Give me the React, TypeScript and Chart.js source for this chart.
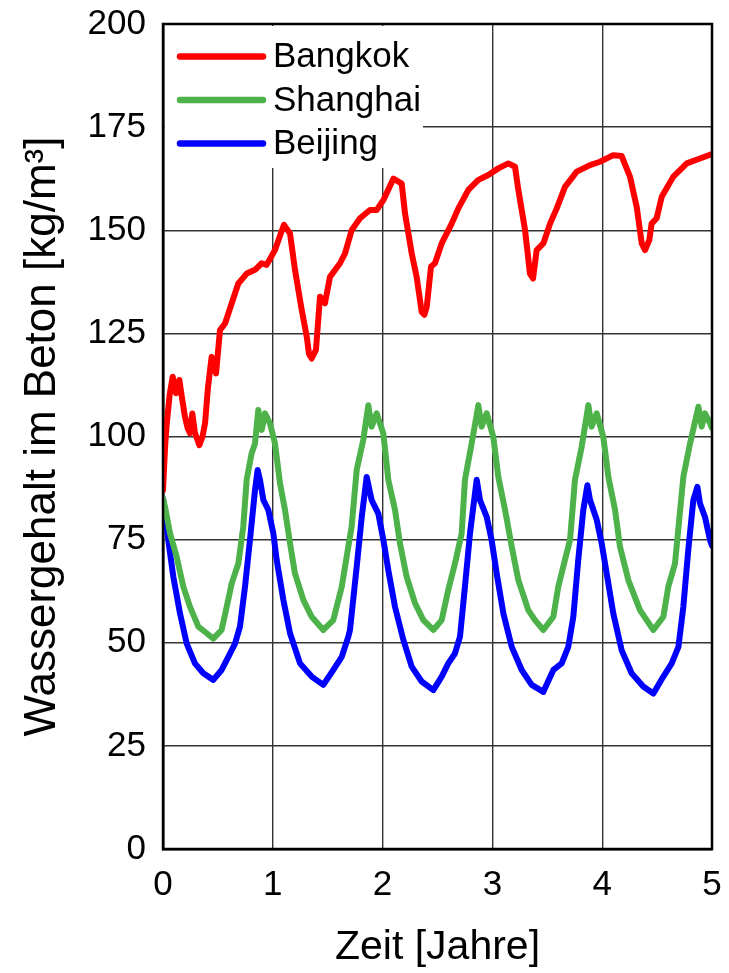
import { useEffect, useRef } from "react";
import { Chart, registerables } from "chart.js";

Chart.register(...registerables);

const SERIES_LABELS = ["Bangkok", "Shanghai", "Beijing"];
const SERIES_COLORS = ["#FF0000", "#4DB24A", "#0000FF"];
const X_TICKS = [0, 1, 2, 3, 4, 5];
const Y_TICKS = [0, 25, 50, 75, 100, 125, 150, 175, 200];
const X_TITLE = "Zeit [Jahre]";
const Y_TITLE = "Wassergehalt im Beton [kg/m³]";

const bangkokTime = [0, 0.02, 0.034, 0.06, 0.088, 0.118, 0.149, 0.175, 0.2, 0.225, 0.246, 0.267, 0.29, 0.331, 0.36, 0.383, 0.41, 0.443, 0.483, 0.519, 0.565, 0.626, 0.686, 0.762, 0.838, 0.899, 0.944, 1.02, 1.07, 1.102, 1.157, 1.202, 1.263, 1.309, 1.33, 1.354, 1.393, 1.43, 1.475, 1.521, 1.612, 1.658, 1.718, 1.794, 1.885, 1.946, 2.007, 2.098, 2.174, 2.204, 2.265, 2.31, 2.356, 2.38, 2.402, 2.441, 2.477, 2.538, 2.629, 2.69, 2.781, 2.872, 2.963, 3.054, 3.145, 3.206, 3.236, 3.297, 3.342, 3.37, 3.403, 3.464, 3.525, 3.586, 3.661, 3.768, 3.889, 3.98, 4.101, 4.177, 4.253, 4.314, 4.36, 4.39, 4.429, 4.45, 4.496, 4.542, 4.648, 4.77, 4.89, 5.0];
const bangkokValues = [87, 98, 103, 110, 114.5, 110.5, 113.7, 109, 104.8, 102, 100.8, 105.6, 101, 97.9, 100, 103.2, 112, 119.3, 115.3, 125.8, 127.4, 132.3, 137.1, 139.5, 140.4, 142, 141.6, 145.2, 149, 151.3, 149.2, 140.4, 130.7, 124.2, 120, 118.9, 121, 133.9, 132.3, 138.7, 142, 144.4, 150, 152.9, 154.9, 154.9, 157.3, 162.5, 161.3, 154.1, 144.4, 138.7, 130.2, 129.5, 131.4, 141.2, 142, 146.8, 151.6, 155.3, 159.8, 162.2, 163.4, 165, 166.2, 165.4, 159.8, 150.1, 139.5, 138.3, 145.2, 146.8, 151.6, 155.3, 160.5, 164.2, 165.8, 166.6, 168.2, 168, 163, 155.7, 146.8, 145.2, 147.6, 151.6, 152.9, 158.1, 163, 166.2, 167.4, 168.5];

const shanghaiTime = [0, 0.018, 0.064, 0.124, 0.185, 0.246, 0.322, 0.398, 0.458, 0.534, 0.58, 0.626, 0.686, 0.731, 0.762, 0.807, 0.838, 0.868, 0.899, 0.929, 0.974, 1.02, 1.066, 1.111, 1.157, 1.202, 1.278, 1.354, 1.46, 1.551, 1.628, 1.673, 1.718, 1.764, 1.824, 1.87, 1.9, 1.946, 2.007, 2.052, 2.113, 2.158, 2.219, 2.295, 2.371, 2.462, 2.538, 2.598, 2.659, 2.72, 2.75, 2.811, 2.872, 2.902, 2.948, 3.008, 3.054, 3.115, 3.176, 3.236, 3.327, 3.388, 3.464, 3.555, 3.6, 3.661, 3.707, 3.752, 3.813, 3.874, 3.904, 3.95, 4.01, 4.056, 4.117, 4.162, 4.238, 4.344, 4.466, 4.557, 4.602, 4.663, 4.739, 4.8, 4.876, 4.906, 4.936, 4.982, 5.0];
const shanghaiValues = [85, 83, 76.5, 70.9, 63.6, 58.7, 53.9, 52.3, 51, 53.1, 58.7, 64.4, 69.2, 78.1, 89.5, 95.9, 98.3, 106.4, 101.6, 105.6, 103.2, 98.3, 88.6, 82.2, 74.1, 66.8, 60.4, 56.3, 53.1, 55.5, 63.6, 70.9, 78.1, 91.9, 99.2, 107.6, 102.4, 105.6, 100.7, 89.5, 82.2, 74.1, 66, 59.6, 55.5, 53.1, 55.5, 62.8, 69.2, 76.5, 89.5, 98.3, 107.6, 102.4, 105.6, 99.9, 90.2, 82.2, 73.3, 65.2, 57.9, 55.5, 53.1, 56.3, 63.6, 70.1, 74.9, 89.5, 97.5, 107.6, 102.4, 105.6, 99.9, 90.2, 82.2, 73.3, 65.2, 57.9, 53.1, 56.3, 63.6, 69.2, 90.2, 98.3, 107.2, 102.4, 105.6, 103.2, 102];

const beijingTime = [0, 0.018, 0.048, 0.094, 0.155, 0.216, 0.291, 0.367, 0.458, 0.534, 0.595, 0.656, 0.701, 0.747, 0.792, 0.838, 0.862, 0.883, 0.914, 0.959, 1.005, 1.035, 1.096, 1.157, 1.248, 1.354, 1.46, 1.551, 1.628, 1.688, 1.703, 1.764, 1.81, 1.855, 1.9, 1.961, 2.007, 2.052, 2.113, 2.189, 2.265, 2.356, 2.462, 2.538, 2.598, 2.659, 2.705, 2.75, 2.796, 2.857, 2.887, 2.948, 2.993, 3.039, 3.1, 3.176, 3.267, 3.358, 3.464, 3.555, 3.631, 3.691, 3.737, 3.782, 3.828, 3.865, 3.889, 3.95, 3.995, 4.041, 4.101, 4.177, 4.268, 4.374, 4.466, 4.557, 4.633, 4.694, 4.739, 4.784, 4.83, 4.867, 4.89, 4.936, 4.982, 5.0];
const beijingValues = [85, 82, 74.9, 66, 57.1, 49.8, 45, 42.6, 41, 43.4, 46.6, 49.8, 53.9, 63.6, 74.9, 87, 91.9, 89.5, 84.6, 82.2, 76.5, 70.1, 60.4, 52.3, 45, 41.8, 39.8, 43.4, 46.6, 51.5, 53.1, 68.4, 80.5, 90.2, 84.6, 81.3, 74.9, 67.6, 58.7, 50.7, 44.2, 40.6, 38.5, 41.8, 45, 47.4, 51.5, 63.6, 76.5, 89.5, 84.6, 80.5, 74.9, 66.8, 57.1, 49, 43.4, 39.8, 38.1, 43.4, 45, 49, 56.3, 70.1, 82.2, 88.2, 84.6, 79.8, 74.1, 66.8, 57.1, 48.2, 42.6, 39.4, 37.7, 41.8, 45, 49, 58.7, 72.5, 84.6, 87.8, 83.8, 80.5, 74.9, 73.5];

const FONT = "'Liberation Sans', Arial, Helvetica, sans-serif";

const toPoints = (t: number[], v: number[]) => t.map((x, i) => ({ x, y: v[i] }));

const legendPlugin = {
  id: "boxLegend",
  beforeDatasetsDraw(chart: any) {
    const { ctx, chartArea } = chart;
    ctx.save();
    ctx.fillStyle = "#ffffff";
    ctx.fillRect(chartArea.left + 2, chartArea.top + 2, 258, 142);
    chart.data.datasets.forEach((ds: any, i: number) => {
      const y = chartArea.top + 32.5 + i * 43.5;
      ctx.strokeStyle = ds.borderColor;
      ctx.lineWidth = 6.5;
      ctx.lineCap = "round";
      ctx.beginPath();
      ctx.moveTo(chartArea.left + 17, y);
      ctx.lineTo(chartArea.left + 100, y);
      ctx.stroke();
      ctx.fillStyle = "#000000";
      ctx.font = `35px ${FONT}`;
      ctx.textBaseline = "middle";
      ctx.textAlign = "left";
      ctx.fillText(ds.label, chartArea.left + 110, y + 1);
    });
    ctx.restore();
  },
};

const framePlugin = {
  id: "frame",
  afterDatasetsDraw(chart: any) {
    const { ctx, chartArea } = chart;
    ctx.save();
    ctx.strokeStyle = "#000000";
    ctx.lineWidth = 2.5;
    ctx.strokeRect(chartArea.left, chartArea.top, chartArea.right - chartArea.left, chartArea.bottom - chartArea.top);
    ctx.restore();
  },
};

const zeroPadding = (scale: any) => {
  scale.paddingTop = 0;
  scale.paddingBottom = 0;
  scale.paddingLeft = 0;
  scale.paddingRight = 0;
};

export default function App() {
  const canvasRef = useRef<HTMLCanvasElement | null>(null);

  useEffect(() => {
    if (!canvasRef.current) return;
    const series = [
      toPoints(bangkokTime, bangkokValues),
      toPoints(shanghaiTime, shanghaiValues),
      toPoints(beijingTime, beijingValues),
    ];
    const chart = new Chart(canvasRef.current, {
      type: "line",
      data: {
        datasets: series.map((data, i) => ({
          label: SERIES_LABELS[i],
          data,
          borderColor: SERIES_COLORS[i],
          backgroundColor: SERIES_COLORS[i],
          borderWidth: 6,
          borderJoinStyle: "round",
          borderCapStyle: "round",
          pointRadius: 0,
          tension: 0,
          fill: false,
        })),
      },
      options: {
        animation: false,
        responsive: true,
        maintainAspectRatio: false,
        layout: { padding: { left: 0, top: 24, right: 17, bottom: 0 } },
        plugins: { legend: { display: false }, tooltip: { enabled: false } },
        scales: {
          x: {
            type: "linear",
            min: 0,
            max: 5,
            afterBuildTicks: (scale: any) => {
              scale.ticks = X_TICKS.map((value) => ({ value }));
            },
            afterFit: (scale: any) => {
              scale.height = 124;
              zeroPadding(scale);
            },
            grid: { color: "#333333", lineWidth: 1.4, drawTicks: false },
            border: { color: "#000000", width: 2.5 },
            ticks: { color: "#000000", font: { family: FONT, size: 35 }, padding: 15, maxRotation: 0 },
            title: {
              display: true,
              text: X_TITLE,
              color: "#000000",
              font: { family: FONT, size: 41, lineHeight: 1.2 },
              padding: { top: 0, bottom: 1 },
            },
          },
          y: {
            type: "linear",
            min: 0,
            max: 200,
            afterBuildTicks: (scale: any) => {
              scale.ticks = Y_TICKS.map((value) => ({ value }));
            },
            afterFit: (scale: any) => {
              scale.width = 163;
              zeroPadding(scale);
            },
            grid: { color: "#333333", lineWidth: 1.4, drawTicks: false },
            border: { color: "#000000", width: 2.5 },
            ticks: { color: "#000000", font: { family: FONT, size: 35 }, padding: 17 },
            title: {
              display: true,
              text: Y_TITLE,
              color: "#000000",
              font: { family: FONT, size: 44, lineHeight: 1.95 },
              padding: 0,
            },
          },
        },
      },
      plugins: [legendPlugin, framePlugin],
    } as any);
    return () => chart.destroy();
  }, []);

  return (
    <div style={{ position: "absolute", left: 0, top: 0, width: 729, height: 973, background: "#ffffff" }}>
      <canvas ref={canvasRef} />
    </div>
  );
}
